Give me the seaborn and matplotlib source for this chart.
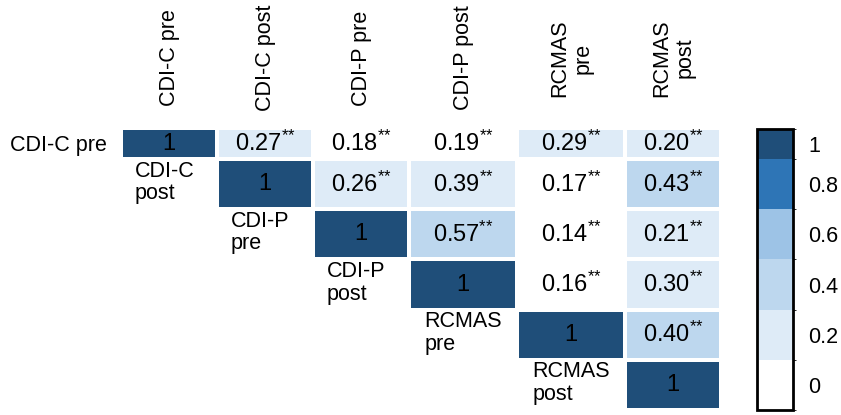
import numpy as np
import pandas as pd
import matplotlib
matplotlib.use("Agg")
import matplotlib.pyplot as plt
import seaborn as sns
from matplotlib.colors import ListedColormap, BoundaryNorm
from matplotlib.cm import ScalarMappable
from matplotlib import transforms

# variable names
variables = ["CDI-C pre", "CDI-C post", "CDI-P pre", "CDI-P post", "RCMAS pre", "RCMAS post"]
header_labels = ["CDI-C pre", "CDI-C post", "CDI-P pre", "CDI-P post", "RCMAS\npre", "RCMAS\npost"]
diag_labels = ["CDI-C\npost", "CDI-P\npre", "CDI-P\npost", "RCMAS\npre", "RCMAS\npost"]

# upper triangle of the correlation matrix (nan = lower triangle)
nan = np.nan
corr_rows = [
    [1.00, 0.27, 0.18, 0.19, 0.29, 0.20],
    [nan, 1.00, 0.26, 0.39, 0.17, 0.43],
    [nan, nan, 1.00, 0.57, 0.14, 0.21],
    [nan, nan, nan, 1.00, 0.16, 0.30],
    [nan, nan, nan, nan, 1.00, 0.40],
    [nan, nan, nan, nan, nan, 1.00],
]
# significance mark (p < .01) for every off-diagonal value, written so mathtext
# doesn't pad the asterisks like binary operators
sig_mark = "{*}{*}"

# colour bins
bin_colors = ["#ffffff", "#deebf7", "#bdd7ee", "#9dc3e6", "#2e75b6", "#1f4e79"]
cell_bounds = [0, 0.2, 0.4, 0.6, 0.8, 0.99, 1.01]
cbar_bounds = [-0.1, 0.1, 0.3, 0.5, 0.7, 0.9, 1.02]
cbar_ticks = [0, 0.2, 0.4, 0.6, 0.8, 0.96]
cbar_labels = ["0", "0.2", "0.4", "0.6", "0.8", "1"]

plt.rcParams['font.family'] = ['Liberation Sans', 'DejaVu Sans']
plt.rcParams['mathtext.fontset'] = 'custom'
plt.rcParams['mathtext.rm'] = 'Liberation Sans'
plt.rcParams['mathtext.it'] = 'Liberation Sans:italic'
plt.rcParams['mathtext.bf'] = 'Liberation Sans:bold'

corr = pd.DataFrame(corr_rows, index=variables, columns=variables)


def cell_text(v):
    if np.isnan(v):
        return ""
    if v >= 0.999:
        return "1"
    return f"{v:.2f}$^{{{sig_mark}}}$"


annot = corr.apply(lambda col: col.map(cell_text))

cmap = ListedColormap(bin_colors)
norm = BoundaryNorm(cell_bounds, cmap.N)

W, H = 841, 415
fig = plt.figure(figsize=(W / 100, H / 100), dpi=100)

# the table has uneven cells (like the spreadsheet it came from):
# split it into blocks of equal-sized cells, pixel extents of each block
col_groups = [(0, 3, 121, 409), (3, 5, 409, 625), (5, 6, 625, 721)]
row_groups = [(0, 1, 128, 159), (1, 6, 159, 410)]

kw = dict(cmap=cmap, norm=norm, cbar=False, linewidths=1.5, linecolor="white",
          fmt="", annot_kws=dict(fontsize=17, color="black"),
          xticklabels=False, yticklabels=False)

blocks = {}
for r0, r1, y0, y1 in row_groups:
    for c0, c1, x0, x1 in col_groups:
        ax = fig.add_axes([x0 / W, (H - y1) / H, (x1 - x0) / W, (y1 - y0) / H])
        sub = corr.iloc[r0:r1, c0:c1]
        sns.heatmap(sub, annot=annot.iloc[r0:r1, c0:c1].values, mask=sub.isna(), ax=ax, **kw)
        ax.set_xlabel("")
        ax.set_ylabel("")
        blocks[(r0, c0)] = ax


def block_for(row, col):
    r0 = [g[0] for g in row_groups if g[0] <= row < g[1]][0]
    c0 = [g[0] for g in col_groups if g[0] <= col < g[1]][0]
    return blocks[(r0, c0)], row - r0, col - c0


# row label of the first row
ax00 = blocks[(0, 0)]
ax00.set_yticks([0.5])
ax00.set_yticklabels([variables[0]], rotation=0, fontsize=15.5)
ax00.tick_params(axis='y', length=0, pad=10)

# column headers
for j, lab in enumerate(header_labels):
    ax, _, cj = block_for(0, j)
    trans = transforms.blended_transform_factory(ax.transData, fig.transFigure)
    ax.text(cj + 0.5, 1 - 58 / H, lab, transform=trans, rotation=90,
            ha='center', va='center', multialignment='center',
            fontsize=15.5, linespacing=1.15)

# names below the diagonal
for k, lab in enumerate(diag_labels):
    ax, ri, cj = block_for(k + 1, k)
    ax.text(cj + 0.14, ri + 0.03, lab, ha='left', va='top', fontsize=15.5, linespacing=1.1)

# colour key
cax = fig.add_axes([757 / W, (H - 410) / H, 36 / W, 281 / H])
sm = ScalarMappable(norm=BoundaryNorm(cbar_bounds, cmap.N), cmap=cmap)
cb = fig.colorbar(sm, cax=cax, spacing='proportional', ticks=cbar_ticks)
cb.set_ticklabels(cbar_labels)
cb.ax.tick_params(length=0, pad=11, labelsize=15.5)
cb.outline.set_linewidth(2)
cb.outline.set_edgecolor("black")

fig.savefig("out.png", dpi=100)
